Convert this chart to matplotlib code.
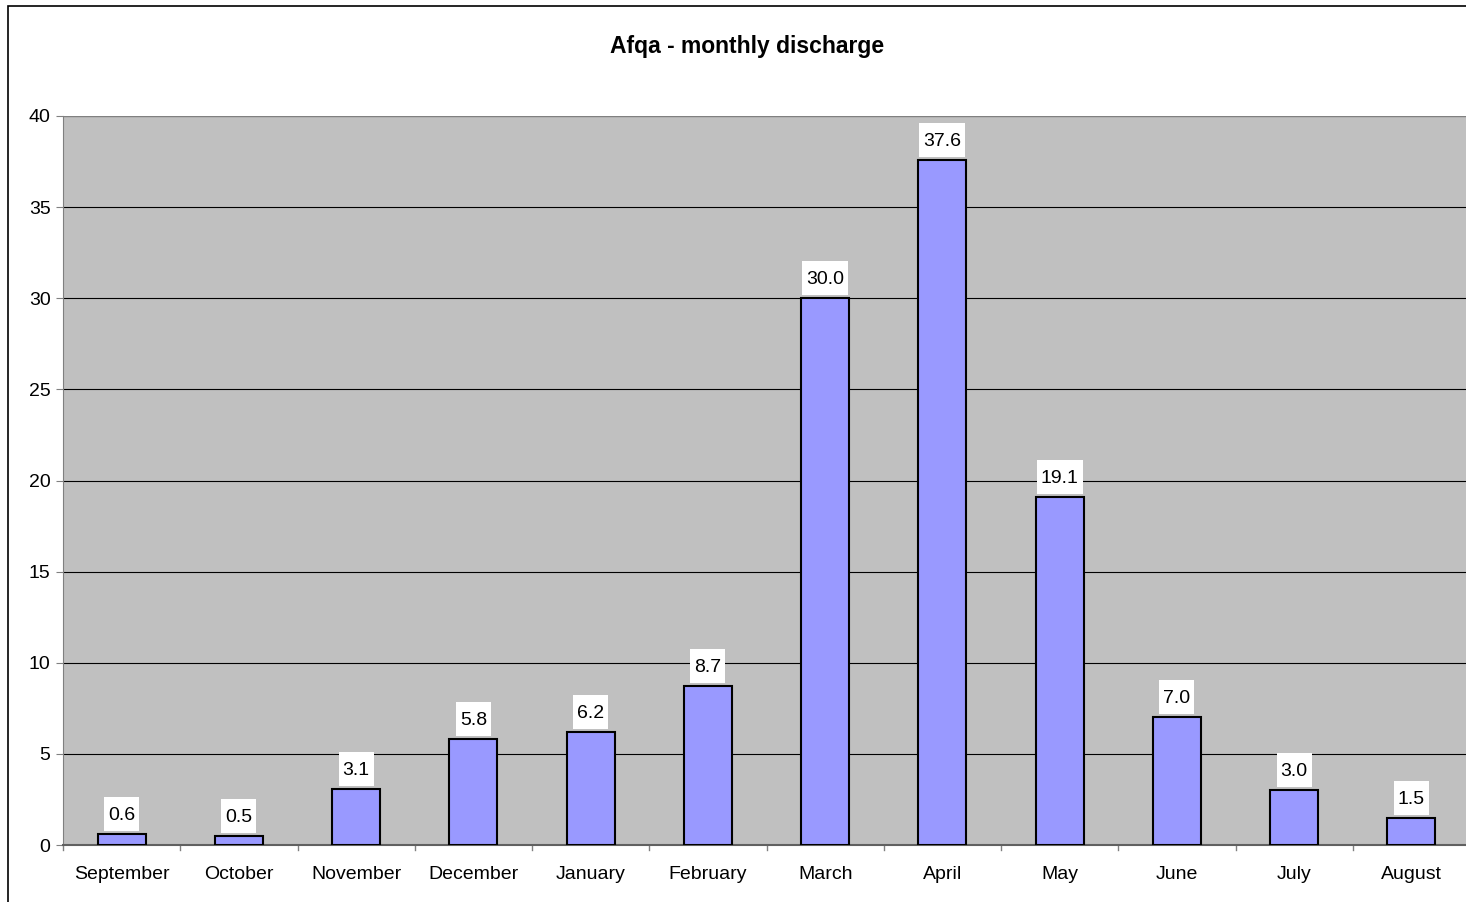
import matplotlib.pyplot as plt
from matplotlib.patches import Rectangle
from matplotlib.transforms import IdentityTransform

months = ['September', 'October', 'November', 'December', 'January', 'February',
          'March', 'April', 'May', 'June', 'July', 'August']
discharge = [0.6, 0.5, 3.1, 5.8, 6.2, 8.7, 30.0, 37.6, 19.1, 7.0, 3.0, 1.5]
yticks = [0, 5, 10, 15, 20, 25, 30, 35, 40]

plt.rcParams['font.family'] = ['Liberation Sans', 'DejaVu Sans']

W, H = 1466, 902
fig = plt.figure(figsize=(W / 100, H / 100), dpi=100)
fig.patch.set_facecolor('white')

# outer chart border (runs off the right and bottom edges)
fig.patches.append(Rectangle((8 / W, -0.1), 1.2, (H - 6) / H + 0.1,
                             transform=fig.transFigure, fill=False,
                             edgecolor='black', linewidth=1.2))

ax = fig.add_axes([63 / W, (H - 845) / H, (1470 - 63) / W, (845 - 116) / H])
ax.set_facecolor('#C0C0C0')

x = range(len(months))
ax.bar(x, discharge, width=0.41, color='#9999FF', edgecolor='black',
       linewidth=1.5, zorder=3)

# value labels: baseline 14 px above the bar top
labels = []
for i, v in enumerate(discharge):
    t = ax.annotate(f'{v:.1f}', (i, v), xytext=(0, 14 * 0.72),
                    textcoords='offset points', ha='center', va='baseline',
                    fontsize=14, zorder=5)
    labels.append(t)

ax.set_xlim(-0.5, len(months) - 0.5)
ax.set_ylim(0, 40)
ax.set_yticks(yticks)
ax.set_yticklabels([str(t) for t in yticks], fontsize=14)
ax.yaxis.grid(True, color='black', linewidth=0.8, zorder=1)
ax.set_axisbelow(True)

ax.set_xticks(x)
ax.set_xticklabels(months, fontsize=14)
ax.tick_params(axis='x', length=0, pad=15)
ax.tick_params(axis='y', length=5, color='#808080', pad=4)
# category separator ticks
for b in range(len(months) + 1):
    ax.plot([b - 0.5, b - 0.5], [0, -0.25], color='#808080', linewidth=1,
            clip_on=False, zorder=2)

for side in ['top', 'right']:
    ax.spines[side].set_visible(False)
ax.spines['left'].set_color('#808080')
ax.spines['bottom'].set_color('#606060')
ax.spines['bottom'].set_linewidth(1.5)
ax.axhline(40, color='#808080', linewidth=1.5, zorder=2)

fig.text(747 / W, (H - 46) / H, 'Afqa - monthly discharge', ha='center',
         va='center', fontsize=16.5, fontweight='bold')

# white boxes behind the value labels, sized in pixels
fig.canvas.draw()
r = fig.canvas.get_renderer()
for i, (v, t) in enumerate(zip(discharge, labels)):
    bb = t.get_window_extent(r)
    ytop = ax.transData.transform((i, v))[1]
    ax.add_patch(Rectangle((bb.x0 - 4, ytop + 3), bb.width + 8, 34,
                           transform=IdentityTransform(), facecolor='white',
                           edgecolor='none', zorder=4, clip_on=False))

fig.savefig('out.png', dpi=100)
